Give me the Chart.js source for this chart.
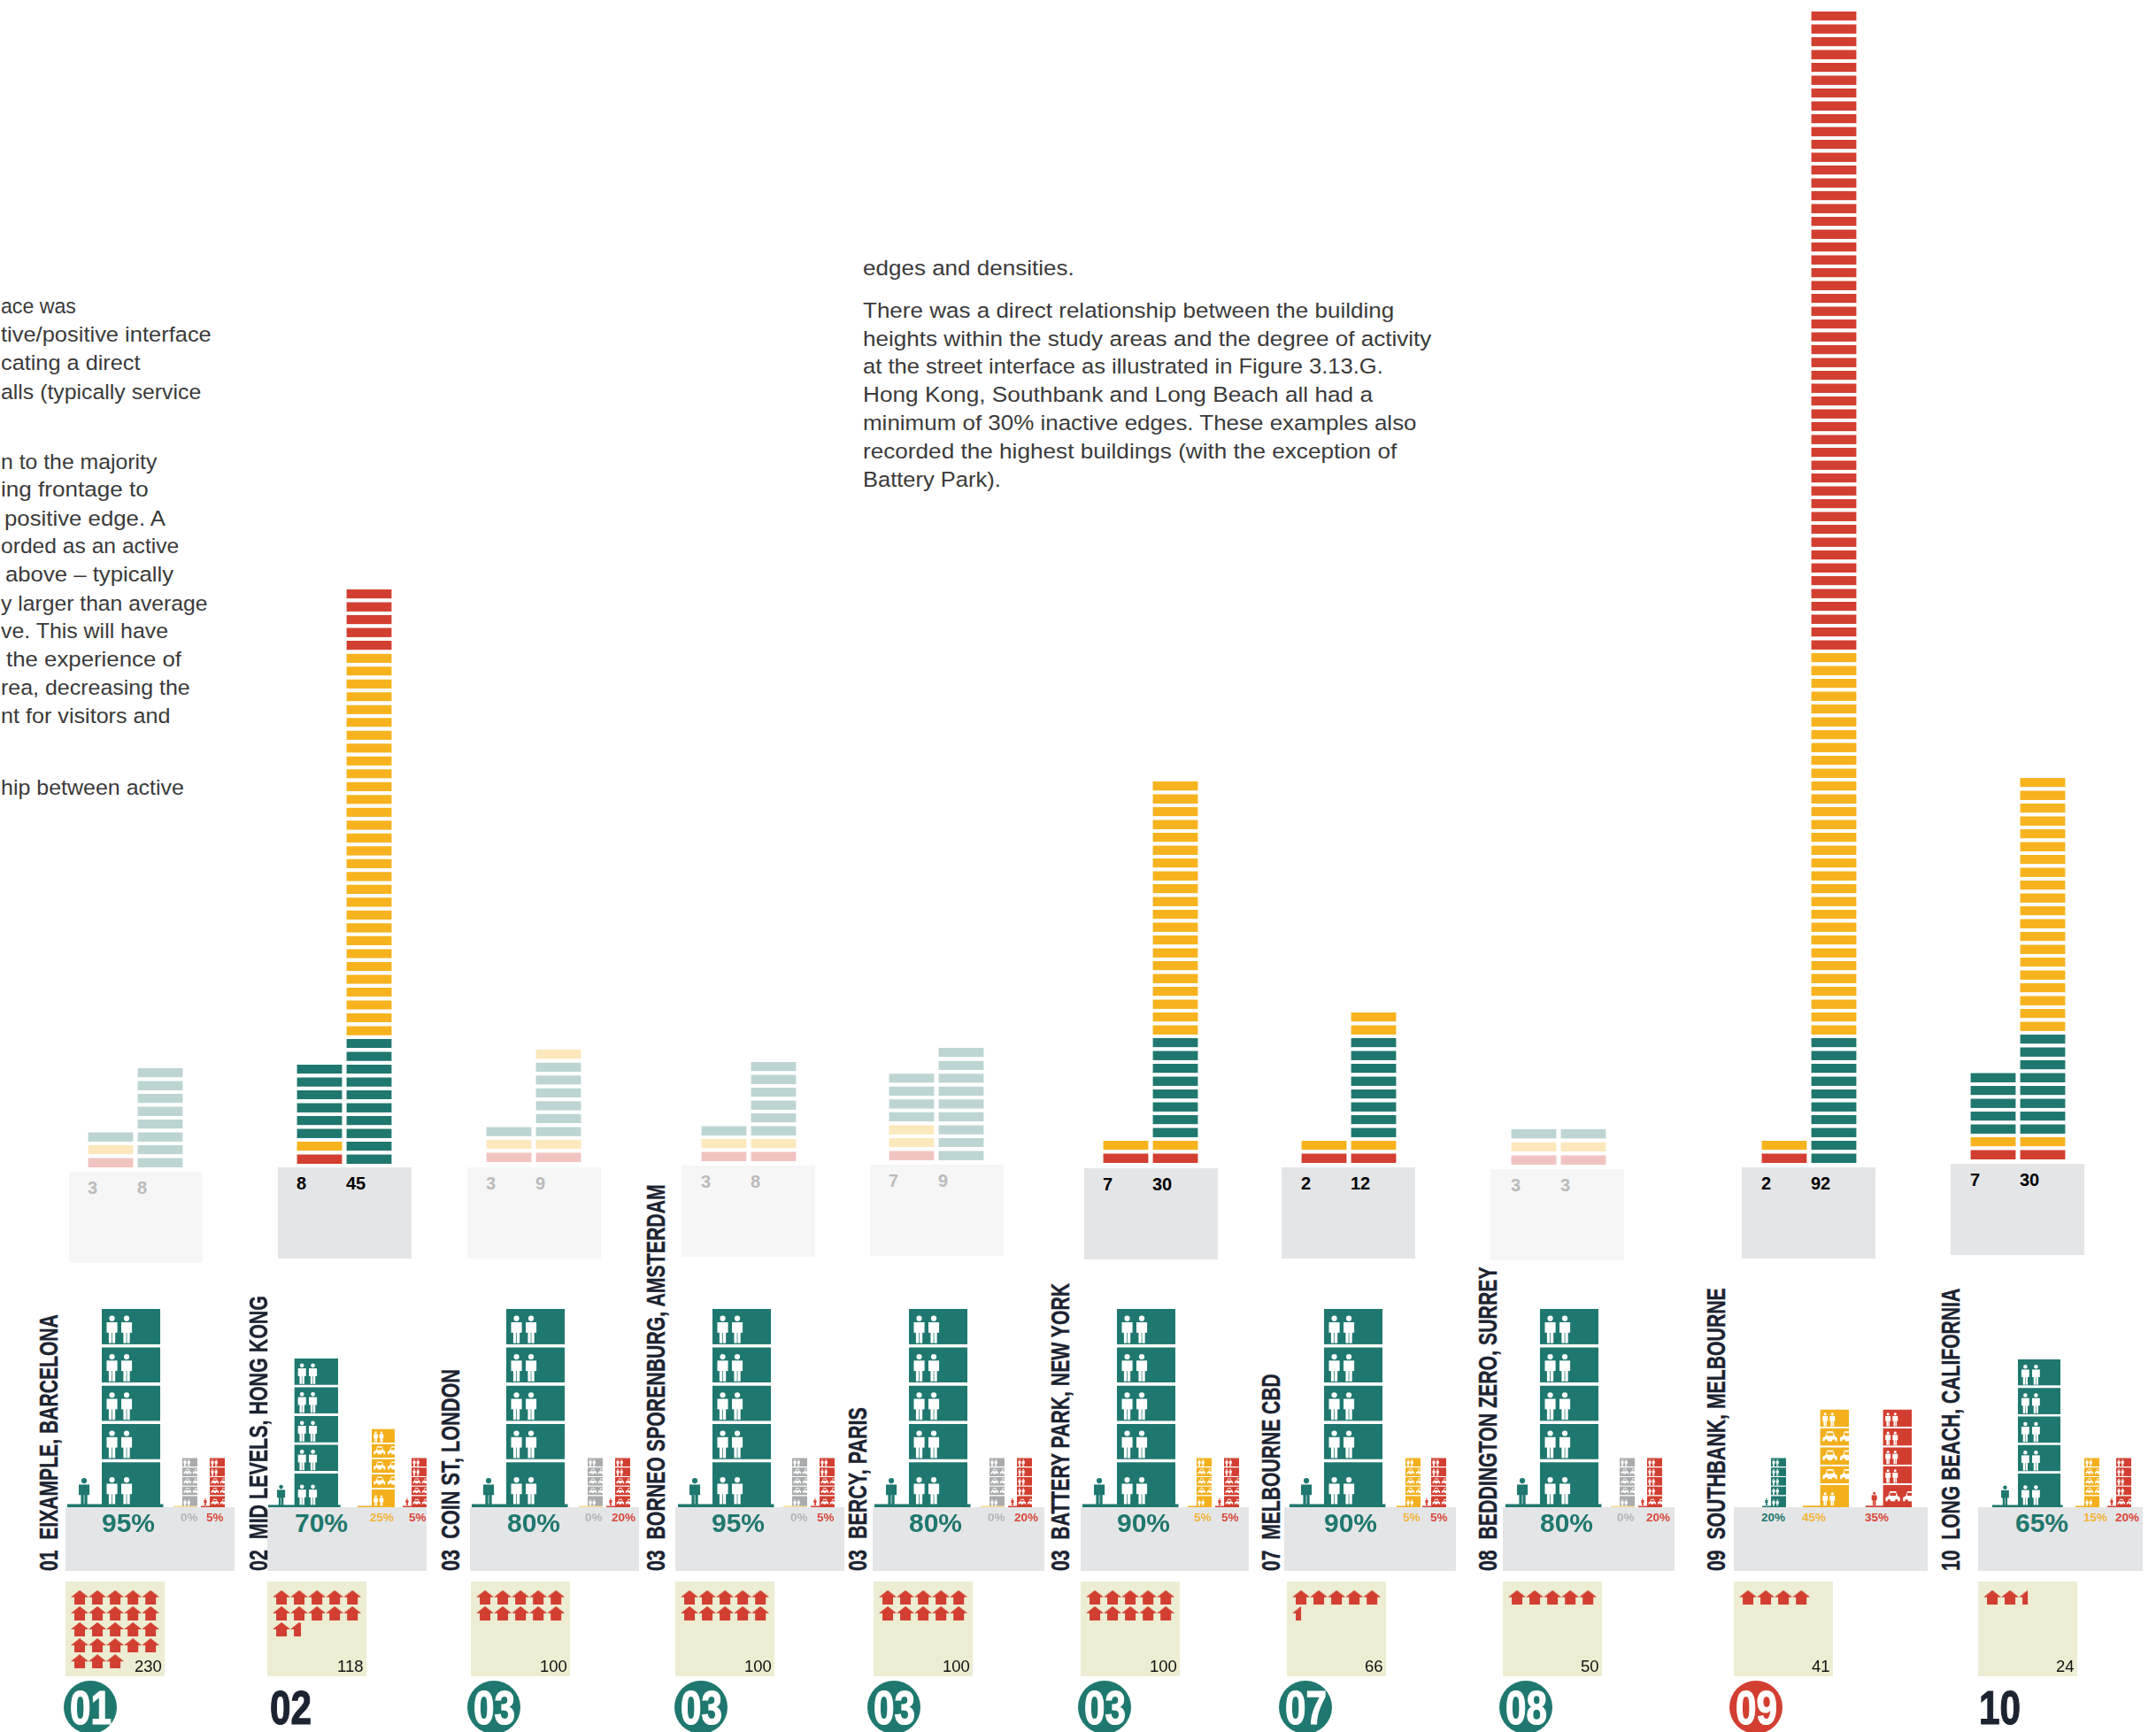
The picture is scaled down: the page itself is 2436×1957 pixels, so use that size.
<!DOCTYPE html>
<html>
<head>
<meta charset="utf-8">
<title>Building heights, active edges and dwelling density</title>
<script src="https://cdn.jsdelivr.net/npm/chart.js@4"></script>
<style>
  html, body { margin: 0; background: #fff; }
  #page { position: relative; width: 2436px; height: 1957px; overflow: hidden; background: #fff; }
  #page canvas, #page .t, #page .box { position: absolute; }
  .t { white-space: pre; line-height: 1; font-family: "Liberation Sans", Arial, sans-serif; }
</style>
</head>
<body>
<div id="page"></div>
<script>
/* Ten study areas: building heights, street edge activity and dwellings per hectare. */

// ---- values ----
const places = ["01  EIXAMPLE, BARCELONA", "02  MID LEVELS, HONG KONG", "03  COIN ST, LONDON",
  "03  BORNEO SPORENBURG, AMSTERDAM", "03  BERCY, PARIS", "03  BATTERY PARK, NEW YORK",
  "07  MELBOURNE CBD", "08  BEDDINGTON ZERO, SURREY", "09  SOUTHBANK, MELBOURNE", "10  LONG BEACH, CALIFORNIA"];
const ranks = ["01", "02", "03", "03", "03", "03", "07", "08", "09", "10"];
const rankBadge = ["green", "", "green", "green", "green", "green", "green", "green", "red", ""];
const faded = [true, false, true, true, true, false, false, true, false, false];

const avgFloors = [3, 8, 3, 3, 7, 7, 2, 3, 2, 7];
const maxFloors = [8, 45, 9, 8, 9, 30, 12, 3, 92, 30];
// floors bottom to top, R inactive, A neutral, G active
const avgRuns = [
  [["R", 1], ["A", 1], ["G", 1]], [["R", 1], ["A", 1], ["G", 6]], [["R", 1], ["A", 1], ["G", 1]],
  [["R", 1], ["A", 1], ["G", 1]], [["R", 1], ["A", 2], ["G", 4]], [["R", 1], ["A", 1]],
  [["R", 1], ["A", 1]], [["R", 1], ["A", 1], ["G", 1]], [["R", 1], ["A", 1]], [["R", 1], ["A", 1], ["G", 5]]];
const maxRuns = [
  [["G", 8]], [["G", 10], ["A", 30], ["R", 5]], [["R", 1], ["A", 1], ["G", 6], ["A", 1]],
  [["R", 1], ["A", 1], ["G", 6]], [["G", 9]], [["R", 1], ["A", 1], ["G", 8], ["A", 20]],
  [["R", 1], ["A", 1], ["G", 8], ["A", 2]], [["R", 1], ["A", 1], ["G", 1]],
  [["G", 10], ["A", 30], ["R", 50]], [["R", 1], ["A", 1], ["G", 8], ["A", 20]]];

const activePct = [95, 70, 80, 95, 80, 90, 90, 80, 20, 65];
const neutralPct = [0, 25, 0, 0, 0, 5, 5, 0, 45, 15];
const inactivePct = [5, 5, 20, 5, 20, 5, 5, 20, 35, 20];
const inactiveFloors = ["PPCCC", "PPCCC", "PPCCC", "PPCCC", "PPPPC", "PPCCC", "PPCCC", "PPPPC", "PPPPC", "PPPPC"];
const activeFloors = "PPPPP";
const neutralFloors = "PCCCP";

const dwellings = [230, 118, 100, 100, 100, 100, 66, 50, 41, 24];
// houses as drawn in each box, last one may be cut
const housesDrawn = [23, 11.6, 10, 10, 10, 10, 5.5, 5, 4, 2.5];

const paragraphLeft = ["ace was", "tive/positive interface", "cating a direct", "alls (typically service",
  "n to the majority", "ing frontage to", "positive edge. A", "orded as an active", "above – typically",
  "y larger than average", "ve. This will have", "the experience of", "rea, decreasing the",
  "nt for visitors and", "hip between active"];
const paragraphMiddle = ["edges and densities.", "There was a direct relationship between the building",
  "heights within the study areas and the degree of activity", "at the street interface as illustrated in Figure 3.13.G.",
  "Hong Kong, Southbank and Long Beach all had a", "minimum of 30% inactive edges. These examples also",
  "recorded the highest buildings (with the exception of", "Battery Park)."];

// ---- layout, in page pixels ----
const heightLeft = [99, 335, 549, 792, 1004, 1246, 1470, 1707, 1990, 2226];
const heightBase = [1319, 1315, 1313, 1312, 1311, 1314, 1314, 1316, 1314, 1310];
const heightBlockLeft = [78, 314, 528, 770, 983, 1225, 1448, 1684, 1968, 2204];
const heightBlockTop = [1324, 1319, 1319, 1317, 1316, 1320, 1319, 1321, 1319, 1315];
const edgeBlockLeft = [74, 302, 531, 763, 986, 1221, 1451, 1698, 1959, 2235];
const edgeBlockRight = [265, 482, 722, 954, 1180, 1411, 1645, 1892, 2178, 2421];
const activeLeft = [115, 333, 572, 805, 1027, 1262, 1496, 1740, 2001, 2280];
const neutralLeft = [206, 420, 664, 895, 1118, 1352, 1588, 1830, 2056, 2355];
const inactiveLeft = [237, 465, 695, 926, 1149, 1383, 1617, 1861, 2127, 2391];
const activeLabelLeft = [115, 333, 573, 804, 1027, 1262, 1496, 1740, 1990, 2277];
const neutralLabelLeft = [204, 418, 661, 893, 1116, 1349, 1585, 1827, 2036, 2354];
const inactiveLabelLeft = [233, 462, 691, 923, 1146, 1380, 1616, 1860, 2107, 2390];
const boxLeft = [74, 302, 532, 763, 987, 1221, 1454, 1698, 1959, 2235];
const rankCentre = [102, 328, 558, 792, 1010, 1248, 1475, 1724, 1984, 2259];
const nameLeft = [44, 281, 498, 730, 958, 1187, 1425, 1670, 1928, 2193];
const nameTop = [1485, 1464, 1547, 1338, 1590, 1450, 1552, 1431, 1455, 1456];
const leftStart = [1, 1, 1, 1, 1, 1, 5, 1, 6, 1, 1, 7, 1, 1, 1];
const leftRight = [86, 239, 159, 227, 177, 168, 187, 202, 196, 235, 190, 205, 215, 193, 208];
const leftCentre = [346, 378, 410, 443, 522, 553, 586, 617, 649, 682, 713, 745, 777, 809, 890];
const middleRight = [1214, 1575, 1617, 1563, 1551, 1601, 1578, 1131];
const middleCentre = [303, 351, 383, 414, 446, 478, 510, 542];

const FLOOR_PITCH = 14.5, FLOOR_GAP = 4.4, STOREY_BAR = 51, STOREY_STEP = 56;
const EDGE_BASE = 1703, EDGE_BOTTOM = 1775, BOX_TOP = 1787, BOX_HEIGHT = 107, BOX_WIDTH = 112;

const SOLID = { R: "#d23f31", A: "#f7b31e", G: "#1f786f" };
const PALE = { R: "#f2c4c1", A: "#fde8bc", G: "#bcd5d3" };
const GREY = "#a9abad", INK = "#1c2331";
const NARROW = '"Liberation Sans Narrow", "Liberation Sans", sans-serif';

const page = document.getElementById("page");
Chart.defaults.animation = false;
Chart.defaults.responsive = false;
Chart.defaults.events = [];
Chart.defaults.plugins.legend.display = false;
Chart.defaults.plugins.tooltip.enabled = false;

function addCanvas(left, top, w, h) {
  const c = document.createElement("canvas");
  c.width = w; c.height = h;
  c.style.left = left + "px"; c.style.top = top + "px";
  page.appendChild(c);
  return c;
}

function addBox(left, top, w, h, color, radius) {
  const d = document.createElement("div");
  d.className = "box";
  d.style.cssText = `left:${left}px;top:${top}px;width:${w}px;height:${h}px;background:${color};` +
    (radius ? `border-radius:${radius};` : "");
  page.appendChild(d);
}

function addText(str, o) {
  const d = document.createElement("div");
  d.className = "t";
  d.textContent = str;
  d.style.fontSize = o.size + "px";
  d.style.color = o.color || "#000";
  if (o.weight) d.style.fontWeight = o.weight;
  if (o.family) d.style.fontFamily = o.family;
  if (o.stroke) d.style.webkitTextStroke = o.stroke + "px " + (o.color || "#000");
  page.appendChild(d);
  const natural = d.offsetWidth;
  const sx = o.fit ? o.fit / natural : 1;
  let left = o.x;
  if (o.right !== undefined) left = o.right - natural * sx;
  if (o.centre !== undefined) left = o.centre - natural * sx / 2;
  d.style.left = left + "px";
  d.style.top = (o.cy !== undefined ? o.cy - o.size / 2 : o.y) + "px";
  d.style.transformOrigin = "0 0";
  d.style.transform = (o.up ? "rotate(-90deg) " : "") + `scaleX(${sx})`;
}

const hiddenAxes = (yMin, yMax) => ({
  x: { display: false, stacked: true },
  y: { display: false, stacked: true, min: yMin, max: yMax },
});

// one run list -> one colour code per floor
function expand(runs) {
  const out = [];
  runs.forEach(([code, n]) => { for (let k = 0; k < n; k++) out.push(code); });
  return out;
}

function heightChart(i) {
  const pal = faded[i] ? PALE : SOLID;
  const avg = expand(avgRuns[i]), max = expand(maxRuns[i]);
  const h = Math.round(max.length * FLOOR_PITCH);
  const left = heightLeft[i] - (STOREY_STEP - STOREY_BAR) / 2;
  const c = addCanvas(left, heightBase[i] - h, STOREY_STEP * 2, h);
  new Chart(c, {
    type: "bar",
    data: {
      labels: ["average", "maximum"],
      datasets: max.map((code, k) => ({
        data: [avg[k] ? 1 : null, 1],
        backgroundColor: [pal[avg[k]] || "#fff", pal[code]],
        borderColor: "#fff",
        borderWidth: { top: FLOOR_GAP, right: 0, bottom: 0, left: 0 },
        borderSkipped: false,
        barThickness: STOREY_BAR,
      })),
    },
    options: { scales: hiddenAxes(0, max.length) },
  });
  addBox(heightBlockLeft[i], heightBlockTop[i], 151, 103, faded[i] ? "#f6f6f6" : "#e4e5e7");
  const numColor = faded[i] ? "#bbbbbb" : "#000";
  addText(String(avgFloors[i]), { x: heightLeft[i], cy: heightBlockTop[i] + 18, size: 20, weight: 700, color: numColor });
  addText(String(maxFloors[i]), { x: heightLeft[i] + STOREY_STEP, cy: heightBlockTop[i] + 18, size: 20, weight: 700, color: numColor });
}

function personIcon(ctx, x, bottom, h, color) {
  const w = h * 0.39, cx = x + w / 2;
  ctx.fillStyle = color;
  ctx.beginPath(); ctx.arc(cx, bottom - h + h * 0.1, h * 0.1, 0, Math.PI * 2); ctx.fill();
  ctx.fillRect(x, bottom - h * 0.76, w, h * 0.38);
  ctx.fillRect(cx - w * 0.3, bottom - h * 0.4, w * 0.27, h * 0.4);
  ctx.fillRect(cx + w * 0.03, bottom - h * 0.4, w * 0.27, h * 0.4);
}

function carIcon(ctx, x, cy, w, h, bg) {
  const top = cy - h / 2;
  ctx.fillStyle = "#fff";
  ctx.beginPath();
  ctx.moveTo(x + w * 0.2, top + h * 0.42);
  ctx.lineTo(x + w * 0.3, top);
  ctx.lineTo(x + w * 0.72, top);
  ctx.lineTo(x + w * 0.84, top + h * 0.42);
  ctx.lineTo(x + w, top + h * 0.55);
  ctx.lineTo(x + w, top + h * 0.88);
  ctx.lineTo(x, top + h * 0.88);
  ctx.lineTo(x, top + h * 0.55);
  ctx.closePath();
  ctx.fill();
  ctx.fillStyle = bg;
  ctx.fillRect(x + w * 0.3, top + h * 0.14, w * 0.42, h * 0.26);
  ctx.beginPath(); ctx.arc(x + w * 0.24, top + h * 0.84, h * 0.14, 0, Math.PI * 2); ctx.fill();
  ctx.beginPath(); ctx.arc(x + w * 0.76, top + h * 0.84, h * 0.14, 0, Math.PI * 2); ctx.fill();
}

// white figures and cars inside each storey, ground line and the passer-by beside it
const buildingIcons = {
  id: "buildingIcons",
  afterDatasetsDraw(chart, args, opts) {
    const { ctx, chartArea } = chart;
    const w = chartArea.right - chartArea.left, s = w / 66;
    ctx.save();
    ctx.beginPath();
    ctx.rect(chartArea.left, chartArea.top, w, chartArea.bottom - chartArea.top);
    ctx.clip();
    chart.data.datasets.forEach((ds, k) => {
      const el = chart.getDatasetMeta(k).data[0];
      const lift = k === 0 ? 3 * s : 1.5 * s;
      if (ds.use === "P") {
        personIcon(ctx, chartArea.left + 5.5 * s, el.base - lift, 31 * s, "#fff");
        personIcon(ctx, chartArea.left + 22 * s, el.base - lift, 31 * s, "#fff");
      } else {
        const cy = (el.base + el.y) / 2 + 1.5 * s + (k === 0 ? 2 * s : 0);
        carIcon(ctx, chartArea.left + 6 * s, cy, 33 * s, 26 * s, opts.color);
        carIcon(ctx, chartArea.left + 46 * s, cy, 33 * s, 26 * s, opts.color);
      }
    });
    ctx.restore();
    const lineH = Math.max(1.5, 3.5 * s);
    ctx.fillStyle = opts.groundColor;
    ctx.fillRect(chartArea.left - opts.groundLeft, chartArea.bottom - lineH, opts.groundLeft + w + opts.groundRight, lineH);
    if (opts.walker) personIcon(ctx, chartArea.left - 26 * s, chartArea.bottom - 2, 31 * s, opts.color);
  },
};

function buildingSize(pct) {
  if (pct >= 80) return [66, 225];
  if (pct >= 70) return [50, 169];
  if (pct >= 65) return [49, 168];
  if (pct >= 35) return [33, 111];
  if (pct >= 25) return [27, 89];
  return [17, 56];
}

function buildingChart(left, pct, floors, color, groundColor, walker) {
  const [w, h] = buildingSize(pct);
  const s = w / 66;
  const extL = 39 * s + 2, extR = 4;
  const c = addCanvas(left - extL, EDGE_BASE - h, extL + w + extR, h);
  // bottom storey is a little taller; list runs bottom first for the stack
  const order = floors.split("").reverse();
  new Chart(c, {
    type: "bar",
    data: {
      labels: ["share"],
      datasets: order.map((use, k) => ({
        use,
        data: [k === 0 ? 1.25 : 1],
        backgroundColor: color,
        borderColor: "#fff",
        borderWidth: { top: 3 * s + 0.6, right: 0, bottom: 0, left: 0 },
        borderSkipped: false,
        barThickness: w,
      })),
    },
    options: {
      layout: { padding: { left: extL, right: extR, top: 0, bottom: 0 } },
      scales: hiddenAxes(0, 5.2),
      plugins: { buildingIcons: { color, groundColor, groundLeft: 39 * s, groundRight: 3.5 * s * (s > 0.5 ? 1 : 0), walker } },
    },
    plugins: [buildingIcons],
  });
}

function pctLabel(pct, left, color) {
  const big = pct >= 65;
  addText(pct + "%", { x: left, cy: big ? 1721 : 1715, size: big ? 30 : 13.5, weight: 700, color });
}

function edgePanel(i) {
  addBox(edgeBlockLeft[i], EDGE_BASE, edgeBlockRight[i] - edgeBlockLeft[i], EDGE_BOTTOM - EDGE_BASE, "#e4e5e7");
  buildingChart(activeLeft[i], activePct[i], activeFloors, SOLID.G, SOLID.G, true);
  const none = neutralPct[i] === 0;
  buildingChart(neutralLeft[i], neutralPct[i], neutralFloors, none ? GREY : "#f3b01c", none ? "#f6dc96" : "#f3b01c", false);
  buildingChart(inactiveLeft[i], inactivePct[i], inactiveFloors[i], SOLID.R, SOLID.R, true);
  pctLabel(activePct[i], activeLabelLeft[i], SOLID.G);
  pctLabel(neutralPct[i], neutralLabelLeft[i], none ? "#b5b6b8" : "#f3b43a");
  pctLabel(inactivePct[i], inactiveLabelLeft[i], "#d8483a");
}

const houseCache = {};
function houseIcon(part) {
  if (houseCache[part]) return houseCache[part];
  const c = document.createElement("canvas");
  c.width = 20; c.height = 16;
  const g = c.getContext("2d");
  g.beginPath(); g.rect(0, 0, 20 * part, 16); g.clip();
  g.fillStyle = SOLID.R;
  g.beginPath();
  g.moveTo(0, 8); g.lineTo(10, 0); g.lineTo(20, 8); g.lineTo(16, 8);
  g.lineTo(16, 16); g.lineTo(4, 16); g.lineTo(4, 8);
  g.closePath(); g.fill();
  houseCache[part] = c;
  return c;
}

// five houses to a row, the last one cut to its fraction
function housePoints(n) {
  const full = Math.floor(n), part = Math.round((n - full) * 10) / 10;
  const pts = [];
  for (let k = 0; k < full; k++) pts.push({ x: k % 5, y: Math.floor(k / 5), part: 1 });
  if (part > 0) pts.push({ x: full % 5, y: Math.floor(full / 5), part });
  return pts;
}

function dwellingChart(i) {
  addBox(boxLeft[i], BOX_TOP, BOX_WIDTH, BOX_HEIGHT, "#ededd3");
  const c = addCanvas(boxLeft[i], BOX_TOP, BOX_WIDTH, BOX_HEIGHT);
  new Chart(c, {
    type: "scatter",
    data: {
      datasets: [{
        data: housePoints(housesDrawn[i]),
        pointStyle: ctx => houseIcon(ctx.raw ? ctx.raw.part : 1),
        clip: false,
      }],
    },
    options: {
      scales: {
        x: { display: false, min: -0.55, max: -0.55 + BOX_WIDTH / 22 },
        y: { display: false, reverse: true, min: -0.7, max: -0.7 + BOX_HEIGHT / 20 },
      },
    },
  });
  addText(String(dwellings[i]), { right: boxLeft[i] + BOX_WIDTH - 3, cy: 1883, size: 18.5, color: "#111" });
}

function rankMark(i) {
  if (rankBadge[i]) {
    addBox(rankCentre[i] - 30, 1899, 60, 60, rankBadge[i] === "red" ? SOLID.R : SOLID.G, "50%");
  }
  addText(ranks[i], {
    centre: rankCentre[i], cy: 1929, size: 53, weight: 700, family: NARROW, fit: 47, stroke: 1.2,
    color: rankBadge[i] ? "#fff" : INK,
  });
}

function placeName(i) {
  addText(places[i], {
    x: nameLeft[i] - 4, y: EDGE_BOTTOM, size: 30, weight: 700, up: true, color: INK, stroke: 0.4,
    family: NARROW,
    fit: EDGE_BOTTOM - nameTop[i],
  });
}

paragraphLeft.forEach((line, k) => {
  addText(line, { x: leftStart[k], cy: leftCentre[k], size: 24.5, color: "#3a3a3a", fit: leftRight[k] - leftStart[k] });
});
paragraphMiddle.forEach((line, k) => {
  addText(line, { x: 975, cy: middleCentre[k], size: 24.5, color: "#3a3a3a", fit: middleRight[k] - 975 });
});

places.forEach((p, i) => {
  heightChart(i);
  edgePanel(i);
  dwellingChart(i);
  rankMark(i);
  placeName(i);
});
</script>
</body>
</html>
